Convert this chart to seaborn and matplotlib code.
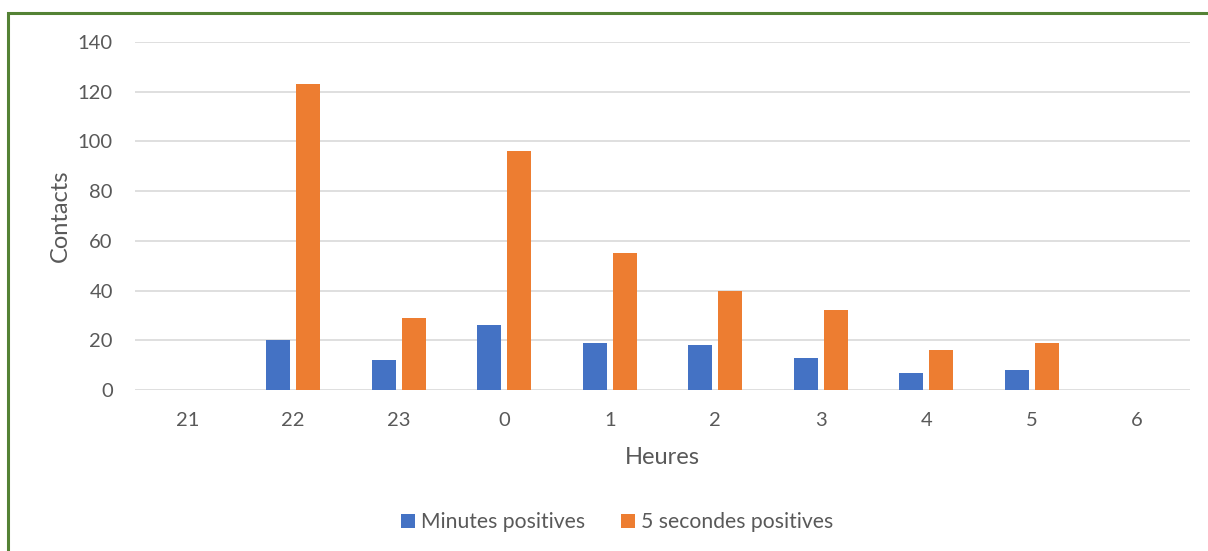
import matplotlib
matplotlib.use("Agg")
import matplotlib.pyplot as plt
import seaborn as sns
import pandas as pd
from matplotlib.patches import Rectangle, Patch

hours = ["21", "22", "23", "0", "1", "2", "3", "4", "5", "6"]
minutes_pos = [0, 20, 12, 26, 19, 18, 13, 7, 8, 0]
five_sec_pos = [0, 123, 29, 96, 55, 40, 32, 16, 19, 0]
series_names = ["Minutes positives", "5 secondes positives"]
colors = ["#4472C4", "#ED7D31"]
yticks = [0, 20, 40, 60, 80, 100, 120, 140]

df = pd.DataFrame({
    "Heures": hours * 2,
    "Contacts": minutes_pos + five_sec_pos,
    "Série": [series_names[0]] * len(hours) + [series_names[1]] * len(hours),
})

sns.set_theme(style="white")
plt.rcParams["font.family"] = ["Lato", "DejaVu Sans"]

fig = plt.figure(figsize=(12.08, 5.51), dpi=100)
ax = fig.add_axes([135 / 1208, 1 - 390 / 551, (1190 - 135) / 1208, (390 - 42) / 551])

sns.barplot(data=df, x="Heures", y="Contacts", hue="Série", order=hours,
            hue_order=series_names, palette=colors, width=0.57, gap=0.2,
            saturation=1, ax=ax, legend=False, linewidth=0)

ax.set_xlim(-0.5, len(hours) - 0.5)
ax.set_ylim(0, 140)
ax.set_yticks(yticks)
ax.yaxis.grid(True, color="#D9D9D9", linewidth=1.2)
ax.set_axisbelow(True)
for s in ax.spines.values():
    s.set_visible(False)
ax.tick_params(axis="both", length=0, labelsize=14.5, colors="#595959")
ax.tick_params(axis="y", pad=16)
ax.tick_params(axis="x", pad=16)
ax.set_xlabel("Heures", fontsize=17, color="#595959", labelpad=13)
ax.set_ylabel("Contacts", fontsize=17, color="#595959", labelpad=5)

handles = [Patch(facecolor=c, edgecolor="none") for c in colors]
fig.legend(handles, series_names, loc="center", bbox_to_anchor=(617 / 1208, 1 - 522 / 551),
           ncol=2, frameon=False, fontsize=15.2, handlelength=0.65, handleheight=0.65,
           handletextpad=0.3, columnspacing=1.7, labelcolor="#595959")

border = Rectangle((8 / 1208, -0.1), 1.2, 1 - 13 / 551 + 0.1, transform=fig.transFigure,
                   fill=False, edgecolor="#548235", linewidth=2.2, clip_on=False)
fig.patches.append(border)

fig.savefig("out.png", dpi=100)
